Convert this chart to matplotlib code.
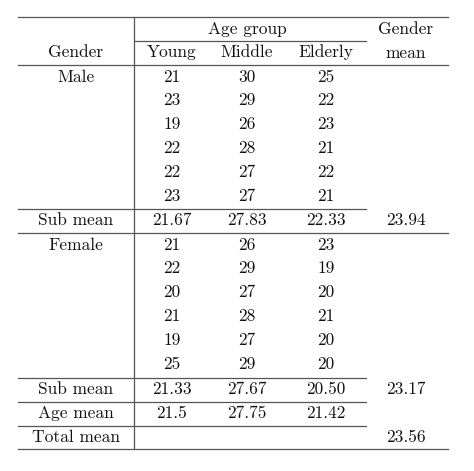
import matplotlib
matplotlib.use("Agg")
import matplotlib.pyplot as plt

plt.rcParams['font.family'] = ['cmr10', 'DejaVu Serif']
plt.rcParams['axes.formatter.use_mathtext'] = True

age_groups = ["Young", "Middle", "Elderly"]
male = [[21, 30, 25], [23, 29, 22], [19, 26, 23], [22, 28, 21], [22, 27, 22], [23, 27, 21]]
female = [[21, 26, 23], [22, 29, 19], [20, 27, 20], [21, 28, 21], [19, 27, 20], [25, 29, 20]]
male_sub = ["21.67", "27.83", "22.33"]
female_sub = ["21.33", "27.67", "20.50"]
age_mean = ["21.5", "27.75", "21.42"]
gender_mean = ["23.94", "23.17"]
total_mean = "23.56"

fig = plt.figure(figsize=(4.74, 4.71), dpi=100)
ax = fig.add_axes([0, 0, 1, 1])
ax.set_xlim(0, 474)
ax.set_ylim(471, 0)
ax.axis("off")

fs = 12.5
col_x = [76, 172, 247, 326, 406]
lc = "#555555"
lw = 0.9

def t(x, y, s):
    ax.text(x, y, s, ha="center", va="center", fontsize=fs, color="#111111")

def hl(y, x0=18, x1=448):
    ax.plot([x0, x1], [y, y], color=lc, lw=lw)

hl(17, 18, 448)
ax.plot([134, 134], [17, 449], color=lc, lw=lw)
t(247, 29, "Age group")
hl(41, 134, 366)
t(406, 29, "Gender")
t(76, 52, "Gender")
for x, s in zip(col_x[1:4], age_groups):
    t(x, 52, s)
t(406, 53, "mean")
hl(65)

y0 = 77
step = 23.8
for i, row in enumerate(male):
    y = y0 + i * step
    if i == 0:
        t(76, y, "Male")
    for x, v in zip(col_x[1:4], row):
        t(x, y, str(v))
hl(209, 18, 366)
t(76, 220, "Sub mean")
for x, v in zip(col_x[1:4], male_sub):
    t(x, 220, v)
t(406, 220, gender_mean[0])
hl(233)

y0 = 245
for i, row in enumerate(female):
    y = y0 + i * step
    if i == 0:
        t(76, y, "Female")
    for x, v in zip(col_x[1:4], row):
        t(x, y, str(v))
hl(378, 18, 366)
t(76, 389, "Sub mean")
for x, v in zip(col_x[1:4], female_sub):
    t(x, 389, v)
t(406, 389, gender_mean[1])
hl(402, 18, 366)
t(76, 413, "Age mean")
for x, v in zip(col_x[1:4], age_mean):
    t(x, 413, v)
hl(426, 18, 366)
t(76, 437, "Total mean")
t(406, 437, total_mean)
hl(449)

fig.savefig("out.png", dpi=100)
